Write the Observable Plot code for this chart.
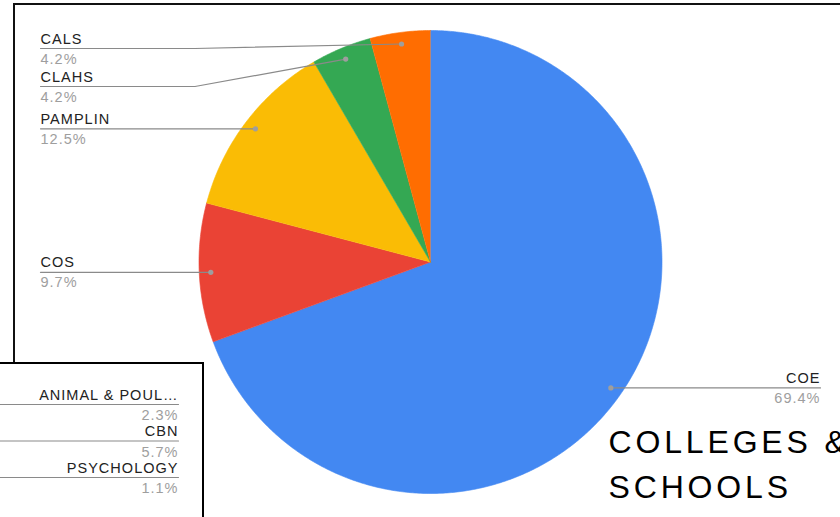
<!DOCTYPE html>
<html>
<head>
<meta charset="utf-8">
<script src="https://cdn.jsdelivr.net/npm/d3@7"></script>
<script src="https://cdn.jsdelivr.net/npm/@observablehq/plot@0.6"></script>
<style>
html, body { margin: 0; padding: 0; background: #fff; }
#page { position: relative; width: 840px; height: 517px; overflow: hidden; background: #fff; font-family: "Liberation Sans", Arial, sans-serif; }
#frame { position: absolute; left: 13px; top: 2.5px; width: 1000px; height: 700px; border: 2px solid #111; box-sizing: border-box; }
#main, #sub { position: absolute; left: 0; top: 0; }
#box { position: absolute; left: -10px; top: 362px; width: 214px; height: 220px; border: 2px solid #000; box-sizing: border-box; background: #fff; }
svg text { letter-spacing: 0.07em; }
g[font-size="32"] text { letter-spacing: 0.12em; }
</style>
</head>
<body>
<div id="page">
  <div id="frame"></div>
  <div id="main"></div>
  <div id="box"></div>
  <div id="sub"></div>
</div>
<script>
// ---- data: main pie (colleges & schools) ----
const categories = ["COE", "COS", "PAMPLIN", "CLAHS", "CALS"];
const shares = [69.4, 9.7, 12.5, 4.2, 4.2];
const colors = ["#4388f2", "#ea4335", "#fabc05", "#34a853", "#ff6d01"];
const chartTitle = "COLLEGES &\nSCHOOLS";

// ---- data: second (partly hidden) chart ----
const subCategories = ["ANIMAL & POUL\u2026", "CBN", "PSYCHOLOGY"];
const subShares = [2.3, 5.7, 1.1];

// ---- layout ----
const W = 840, H = 517;
const cx = 430, cy = 261.5, R = 231.5;
const dotR = 0.95 * R;
const labelLeftX = 40, labelRightX = 820;
const labelGap = 38, labelTop = 48;
const font = "Liberation Sans, Arial, sans-serif";

const total = d3.sum(shares);
let cum = 0;
const slices = categories.map((c, i) => {
  const a0 = cum / total * 2 * Math.PI;
  cum += shares[i];
  const a1 = cum / total * 2 * Math.PI;
  const mid = (a0 + a1) / 2;
  return {c, v: shares[i], a0, a1, mid,
          dx: cx + dotR * Math.sin(mid), dy: cy - dotR * Math.cos(mid),
          side: Math.sin(mid) < 0 ? "left" : "right"};
});

// polygon vertices for each slice
const piePts = [];
for (const s of slices) {
  piePts.push({c: s.c, x: cx, y: cy});
  const n = Math.max(2, Math.ceil((s.a1 - s.a0) / (Math.PI / 360)));
  for (let k = 0; k <= n; k++) {
    const a = s.a0 + (s.a1 - s.a0) * k / n;
    piePts.push({c: s.c, x: cx + R * Math.sin(a), y: cy - R * Math.cos(a)});
  }
}

// label placement (stacked, no overlap)
for (const side of ["left", "right"]) {
  const arr = slices.filter(s => s.side === side).sort((a, b) => a.dy - b.dy);
  let prev = -Infinity;
  for (const s of arr) {
    s.ly = Math.max(s.dy, prev + labelGap, labelTop);
    prev = s.ly;
    s.lx = side === "left" ? labelLeftX : labelRightX;
  }
}
const leaderPts = [];
for (const s of slices) {
  const bendX = s.side === "left" ? cx - R - 4 : cx + R + 4;
  leaderPts.push({c: s.c, x: s.lx, y: s.ly}, {c: s.c, x: bendX, y: s.ly}, {c: s.c, x: s.dx, y: s.dy});
}
const left = slices.filter(s => s.side === "left");
const right = slices.filter(s => s.side === "right");

const nameStyle = {fill: "#222", fontSize: 14.5, lineAnchor: "bottom"};
const pctStyle = {fill: "#9e9e9e", fontSize: 14.5, lineAnchor: "bottom"};

const mainPlot = Plot.plot({
  width: W, height: H, margin: 0,
  x: {domain: [0, W], range: [0, W], axis: null},
  y: {domain: [0, H], range: [0, H], axis: null},
  color: {domain: categories, range: colors},
  style: {background: "transparent", fontFamily: font, overflow: "visible"},
  marks: [
    Plot.line(piePts, {x: "x", y: "y", z: "c", fill: "c", stroke: "c", strokeWidth: 0.6, curve: "linear"}),
    Plot.line(leaderPts, {x: "x", y: "y", z: "c", stroke: "#8a8a8a", strokeWidth: 1.2}),
    Plot.dot(slices, {x: "dx", y: "dy", r: 2.6, fill: "#9e9e9e"}),
    Plot.text(left, {x: "lx", y: d => d.ly - 5, text: "c", textAnchor: "start", ...nameStyle}),
    Plot.text(left, {x: "lx", y: d => d.ly + 15, text: d => d.v.toFixed(1) + "%", textAnchor: "start", ...pctStyle}),
    Plot.text(right, {x: "lx", y: d => d.ly - 5, text: "c", textAnchor: "end", ...nameStyle}),
    Plot.text(right, {x: "lx", y: d => d.ly + 15, text: d => d.v.toFixed(1) + "%", textAnchor: "end", ...pctStyle}),
    Plot.text([chartTitle], {x: 608, y: 497, text: d => d, textAnchor: "start", lineAnchor: "bottom",
      fontSize: 32, lineHeight: 1.4, fill: "#000"})
  ]
});
document.getElementById("main").appendChild(mainPlot);

// ---- second chart fragment (labels on the right of a pie that lies off-page) ----
const subX = 178, subTop = 404, subGap = 36.5;
const subLabels = subCategories.map((c, i) => ({c, v: subShares[i], lx: subX, ly: subTop + i * subGap}));
const subLeader = [];
for (const s of subLabels) subLeader.push({c: s.c, x: -5, y: s.ly}, {c: s.c, x: s.lx, y: s.ly});

const subPlot = Plot.plot({
  width: W, height: H, margin: 0,
  x: {domain: [0, W], range: [0, W], axis: null},
  y: {domain: [0, H], range: [0, H], axis: null},
  style: {background: "transparent", fontFamily: font, overflow: "visible"},
  marks: [
    Plot.line(subLeader, {x: "x", y: "y", z: "c", stroke: "#8a8a8a", strokeWidth: 1.2}),
    Plot.text(subLabels, {x: "lx", y: d => d.ly - 5, text: "c", textAnchor: "end", ...nameStyle}),
    Plot.text(subLabels, {x: "lx", y: d => d.ly + 15.5, text: d => d.v.toFixed(1) + "%", textAnchor: "end", ...pctStyle})
  ]
});
document.getElementById("sub").appendChild(subPlot);
</script>
</body>
</html>
